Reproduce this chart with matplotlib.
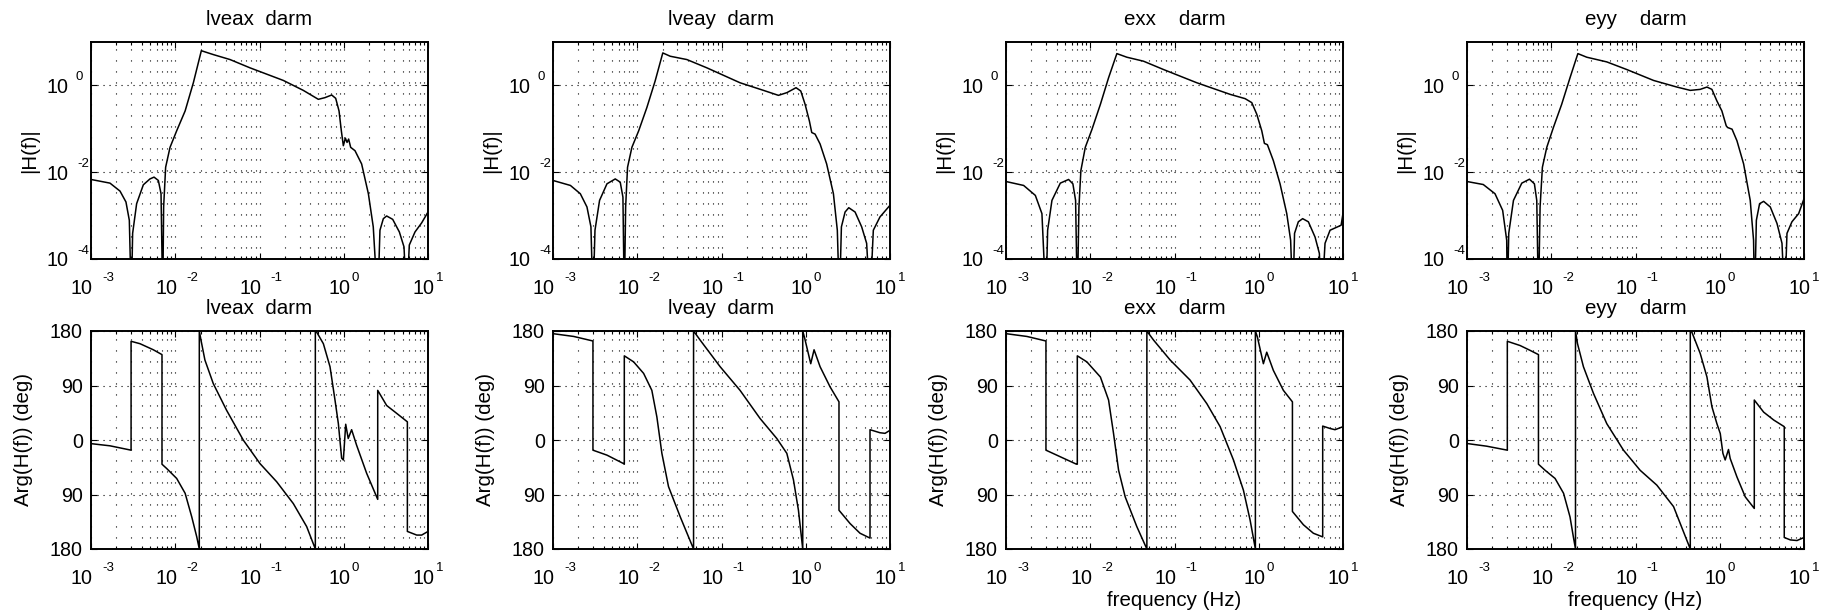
import matplotlib
matplotlib.use("Agg")
import matplotlib.pyplot as plt
from matplotlib.ticker import FixedLocator, FixedFormatter, LogLocator, NullLocator, NullFormatter

plt.rcParams["font.family"] = ["Liberation Sans", "DejaVu Sans"]

# ---- data (frequency in Hz) ----
titles = ["lveax  darm", "lveay  darm", "exx    darm", "eyy    darm"]

# 1e-5 marks the notches that drop below the bottom of the plot
lveax_mag_f = [1.0e-3, 1.68e-3, 2.21e-3, 2.60e-3, 2.85e-3, 3.01e-3, 3.12e-3, 3.48e-3, 4.18e-3, 5.01e-3,
               5.6e-3, 6.3e-3, 6.78e-3, 7.10e-3, 7.28e-3, 7.69e-3, 8.67e-3, 1.04e-2, 1.31e-2, 1.64e-2,
               2.04e-2, 2.83e-2, 4.47e-2, 7.71e-2, 0.192, 0.331, 0.499, 0.598, 0.719, 0.802,
               0.879, 0.936, 0.989, 1.045, 1.094, 1.143, 1.208, 1.36, 1.63, 1.96,
               2.24, 2.53, 2.69, 2.95, 3.23, 3.81, 4.57, 5.19, 5.58, 6.0, 7.01, 8.41, 10.0]
lveax_mag = [6.8e-3, 5.6e-3, 3.67e-3, 2.06e-3, 7.8e-4, 1e-5, 3.9e-4, 1.88e-3, 5.13e-3, 7.0e-3,
             7.7e-3, 6.45e-3, 3.19e-3, 1e-5, 1.58e-3, 1.30e-2, 3.74e-2, 9.0e-2, 0.258, 1.15,
             6.3, 5.13, 3.94, 2.54, 1.30, 0.768, 0.478, 0.522, 0.601, 0.504,
             0.258, 9.0e-2, 4.08e-2, 6.1e-2, 4.86e-2, 5.8e-2, 3.74e-2, 3.13e-2, 1.55e-2, 3.19e-3,
             5.5e-4, 1e-5, 4.6e-4, 8.5e-4, 9.8e-4, 8.2e-4, 4.2e-4, 1.9e-4, 1e-5, 2.1e-4, 4.2e-4, 6.8e-4, 1.21e-3]
lveax_ph_f = [1.0e-3, 1.68e-3, 2.99e-3, 2.99e-3, 3.82e-3, 5.49e-3, 6.96e-3, 6.96e-3, 7.9e-3, 1.04e-2,
              1.31e-2, 1.57e-2, 1.80e-2, 1.93e-2, 1.93e-2, 2.02e-2, 2.25e-2, 2.83e-2, 4.07e-2, 6.43e-2,
              0.1014, 0.16, 0.252, 0.363, 0.460, 0.460, 0.478, 0.573, 0.687, 0.787,
              0.863, 0.944, 0.989, 1.055, 1.13, 1.24, 1.42, 1.87, 2.53, 2.53,
              3.23, 4.25, 5.69, 5.69, 7.35, 8.41, 10.0]
lveax_ph = [-6, -9.6, -16.8, 163, 159, 149, 141, -40, -47, -63.5,
            -88, -127, -160, -180, 180, 165, 132, 93, 49, -0.3,
            -39, -69, -105, -143, -180, 180, 178, 159, 121, 66,
            27, -30, -33, 26, 2.5, 17, -8.5, -55, -98, 82,
            57, 44, 30, -151, -157, -157, -151]

lveay_mag_f = [1.0e-3, 1.61e-3, 2.11e-3, 2.53e-3, 2.82e-3, 2.98e-3, 3.15e-3, 3.57e-3, 4.37e-3, 5.48e-3,
               6.28e-3, 6.76e-3, 7.02e-3, 7.28e-3, 7.67e-3, 8.64e-3, 1.04e-2, 1.30e-2, 1.63e-2, 2.01e-2,
               2.46e-2, 3.88e-2, 6.70e-2, 0.166, 0.315, 0.474, 0.596, 0.767, 0.873, 0.982,
               1.104, 1.178, 1.29, 1.48, 1.77, 2.13, 2.37, 2.51, 2.65, 2.93,
               3.24, 3.85, 4.61, 5.28, 5.79, 6.34, 7.60, 10.0]
lveay_mag = [6.45e-3, 4.95e-3, 3.19e-3, 1.58e-3, 5.5e-4, 1e-5, 4.6e-4, 2.24e-3, 5.4e-3, 7.0e-3,
             5.9e-3, 2.67e-3, 1e-5, 1.58e-3, 1.30e-2, 3.74e-2, 9.0e-2, 0.308, 1.26, 5.6,
             4.7, 3.94, 2.54, 1.15, 0.768, 0.59, 0.68, 0.885, 0.742, 0.367,
             0.152, 8.2e-2, 7.55e-2, 4.46e-2, 1.55e-2, 3.19e-3, 4.6e-4, 1e-5, 5.5e-4, 1.21e-3,
             1.52e-3, 1.21e-3, 5.5e-4, 2.3e-4, 1e-5, 4.6e-4, 9.3e-4, 1.73e-3]
lveay_ph_f = [1.0e-3, 1.76e-3, 2.98e-3, 2.98e-3, 4.37e-3, 6.89e-3, 7.02e-3, 7.02e-3, 9.06e-3, 1.19e-2,
              1.49e-2, 1.71e-2, 1.96e-2, 2.35e-2, 3.24e-2, 4.66e-2, 4.66e-2, 5.58e-2, 9.64e-2, 0.166,
              0.287, 0.453, 0.596, 0.715, 0.819, 0.921, 0.921, 0.964, 1.146, 1.255,
              1.48, 1.94, 2.48, 2.48, 3.36, 4.41, 5.79, 5.79, 7.60, 8.73, 10.0]
lveay_ph = [175.6, 171, 163.5, -16.8, -25, -39, -40, 139, 129, 110,
            82, 38, -22, -77, -127, -180, 180, 165, 121, 82,
            35.5, 2.5, -22, -66, -116, -180, 180, 170, 126, 149,
            121, 88, 63, -116, -138, -154, -162, 17, 12, 11, 16]

exx_mag_f = [1.0e-3, 1.62e-3, 2.23e-3, 2.67e-3, 2.98e-3, 3.12e-3, 3.51e-3, 4.41e-3, 5.53e-3, 6.22e-3,
             6.70e-3, 7.02e-3, 7.34e-3, 7.74e-3, 8.73e-3, 1.05e-2, 1.32e-2, 1.65e-2, 2.07e-2, 2.72e-2,
             4.29e-2, 7.41e-2, 0.184, 0.457, 0.689, 0.826, 0.947, 1.086, 1.167, 1.267,
             1.49, 1.79, 2.15, 2.39, 2.54, 2.66, 2.95, 3.32, 3.88, 4.66,
             5.24, 5.58, 6.12, 7.02, 9.5, 10.0]
exx_mag = [6.1e-3, 4.95e-3, 2.92e-3, 1.11e-3, 1e-5, 4.6e-4, 2.24e-3, 5.6e-3, 6.8e-3, 5.4e-3,
           2.24e-3, 1e-5, 1.58e-3, 1.09e-2, 3.74e-2, 9.8e-2, 0.367, 1.50, 5.4, 4.46,
           3.61, 2.32, 1.15, 0.622, 0.495, 0.401, 0.217, 9.0e-2, 4.61e-2, 4.30e-2,
           1.85e-2, 5.4e-3, 1.11e-3, 2.7e-4, 1e-5, 3.9e-4, 7.2e-4, 8.5e-4, 7.2e-4, 3.2e-4,
           1.35e-4, 1e-5, 2.3e-4, 4.6e-4, 6.0e-4, 1.13e-3]
exx_ph_f = [1.0e-3, 1.77e-3, 2.98e-3, 2.98e-3, 4.41e-3, 6.82e-3, 7.02e-3, 7.02e-3, 9.12e-3, 1.32e-2,
            1.65e-2, 1.89e-2, 2.17e-2, 2.60e-2, 3.57e-2, 4.70e-2, 4.70e-2, 5.64e-2, 8.89e-2, 0.153,
            0.242, 0.348, 0.501, 0.658, 0.789, 0.912, 0.912, 0.964, 1.135, 1.244,
            1.49, 1.96, 2.51, 2.51, 3.39, 4.45, 5.74, 5.74, 7.02, 8.04, 10.0]
exx_ph = [175.6, 171, 163.5, -16.8, -27.7, -39.8, -40, 139, 129, 104,
          66, 10.7, -50, -94, -143, -180, 180, 165, 132, 99,
          60, 22, -33, -83, -132, -180, 180, 170, 126, 145,
          115, 82, 63, -118, -140, -154, -160, 23, 19, 17, 22]

eyy_mag_f = [1.0e-3, 1.56e-3, 2.15e-3, 2.65e-3, 2.96e-3, 3.01e-3, 3.13e-3, 3.56e-3, 4.47e-3, 5.51e-3,
             6.31e-3, 6.73e-3, 7.05e-3, 7.37e-3, 7.85e-3, 8.85e-3, 1.06e-2, 1.33e-2, 1.67e-2, 2.07e-2,
             2.64e-2, 4.56e-2, 7.88e-2, 0.164, 0.310, 0.447, 0.586, 0.705, 0.807, 0.925,
             1.06, 1.194, 1.24, 1.40, 1.60, 1.92, 2.30, 2.52, 2.59, 2.72,
             2.97, 3.32, 3.98, 4.78, 5.48, 5.89, 6.28, 7.19, 8.64, 10.0]
eyy_mag = [6.1e-3, 5.2e-3, 3.19e-3, 1.32e-3, 2.7e-4, 1e-5, 3.9e-4, 2.24e-3, 5.6e-3, 6.9e-3,
           5.4e-3, 2.24e-3, 1e-5, 1.58e-3, 1.30e-2, 3.74e-2, 0.107, 0.367, 1.50, 5.4,
           4.46, 3.48, 2.32, 1.30, 0.916, 0.768, 0.81, 0.916, 0.81, 0.438,
           0.258, 0.117, 0.107, 9.8e-2, 5.3e-2, 1.55e-2, 2.24e-3, 2.7e-4, 1e-5, 7.8e-4,
           1.88e-3, 2.13e-3, 1.58e-3, 6.6e-4, 2.3e-4, 1e-5, 3.9e-4, 7.2e-4, 1.11e-3, 2.45e-3]
eyy_ph_f = [1.0e-3, 1.71e-3, 3.01e-3, 3.01e-3, 4.27e-3, 5.61e-3, 7.05e-3, 7.05e-3, 8.45e-3, 1.11e-2,
            1.40e-2, 1.67e-2, 1.83e-2, 1.94e-2, 1.94e-2, 2.05e-2, 2.41e-2, 3.17e-2, 4.56e-2, 7.20e-2,
            0.1135, 0.179, 0.283, 0.447, 0.447, 0.467, 0.586, 0.705, 0.807, 0.925,
            1.014, 1.09, 1.16, 1.27, 1.33, 1.60, 2.01, 2.57, 2.57, 3.32,
            4.37, 5.83, 5.83, 6.89, 8.26, 10.0]
eyy_ph = [-5.8, -10.2, -16.8, 163, 156, 148, 141, -40, -50, -63.5,
          -88, -127, -160, -180, 180, 159, 121, 77, 27, -16.8,
          -50, -74.5, -110, -180, 180, 178, 143, 104, 55, 27,
          10.7, -22, -33, -15.7, -30.5, -61, -94, -113, 66, 46,
          33, 22, -161, -165, -166, -161]

xticks = [1e-3, 1e-2, 1e-1, 1e0, 1e1]
xtick_exps = ["-3", "-2", "-1", "0", "1"]
mag_ticks = [1e-4, 1e-2, 1e0]
mag_exps = ["-4", "-2", "0"]
ph_ticks = [-180, -90, 0, 90, 180]
ph_ticklabels = ["180", "90", "0", "90", "180"]

panels = [
    (lveax_mag_f, lveax_mag, lveax_ph_f, lveax_ph),
    (lveay_mag_f, lveay_mag, lveay_ph_f, lveay_ph),
    (exx_mag_f, exx_mag, exx_ph_f, exx_ph),
    (eyy_mag_f, eyy_mag, eyy_ph_f, eyy_ph),
]

FS = 14.8       # titles / axis labels
FS_TICK = 14.2  # the "10" and phase numbers
FS_EXP = 9.5    # exponents
W, H = 1829.0, 613.0
col_left = [91, 553, 1006, 1467]


def style_axes(ax):
    ax.set_xscale("log")
    ax.set_xlim(1e-3, 10)
    ax.xaxis.set_major_locator(FixedLocator(xticks))
    ax.xaxis.set_major_formatter(NullFormatter())
    ax.xaxis.set_minor_locator(LogLocator(base=10, subs=range(2, 10), numticks=20))
    ax.xaxis.set_minor_formatter(NullFormatter())
    ax.tick_params(which="both", direction="in", top=True, right=True, width=0.8)
    ax.tick_params(which="major", length=4, labelsize=FS_TICK)
    ax.tick_params(which="minor", length=2)
    ax.grid(True, which="both", axis="x", color="k", lw=0.8, ls=(0, (1, 8.9)))
    ax.grid(True, which="major", axis="y", color="k", lw=0.8, ls=(0, (1, 4.4)))
    for sp in ax.spines.values():
        sp.set_linewidth(1.4)
    # matlab style "10" + raised exponent labels under the x axis
    for t, e in zip(xticks, xtick_exps):
        neg = e.startswith("-")
        ax.annotate("10", xy=(t, 0), xycoords=("data", "axes fraction"),
                    xytext=(-6.5 if neg else -3.0, -14.4), textcoords="offset points",
                    ha="center", va="top", fontsize=FS_TICK, annotation_clip=False)
        ax.annotate(e, xy=(t, 0), xycoords=("data", "axes fraction"),
                    xytext=(7.9 if neg else 5.8, -9.4), textcoords="offset points",
                    ha="left", va="top", fontsize=FS_EXP, annotation_clip=False)


fig = plt.figure(figsize=(W / 100, H / 100), dpi=100)

for i, (mf, m, pf, p) in enumerate(panels):
    # magnitude
    ax = fig.add_axes([col_left[i] / W, 1 - 259 / H, 337 / W, 217 / H])
    ax.plot(mf, m, color="k", lw=1.1)
    style_axes(ax)
    ax.set_yscale("log")
    ax.set_ylim(1e-4, 1e1)
    ax.yaxis.set_major_locator(FixedLocator(mag_ticks))
    ax.yaxis.set_major_formatter(FixedFormatter(["10"] * len(mag_ticks)))
    ax.yaxis.set_minor_locator(NullLocator())
    ax.tick_params(axis="y", pad=31.7)
    plt.setp(ax.get_yticklabels(), ha="left")
    for v, e in zip(mag_ticks, mag_exps):
        neg = e.startswith("-")
        ax.annotate(e, xy=(0, v), xycoords=("axes fraction", "data"),
                    xytext=(-10.1 if neg else -11.5, 6.1), textcoords="offset points",
                    ha="left", va="center", fontsize=FS_EXP, annotation_clip=False)
    ax.set_title(titles[i], fontsize=FS, pad=12)
    ax.set_ylabel("|H(f)|", fontsize=FS)
    ax.yaxis.set_label_coords(-0.155, 0.5)

    # phase
    ax = fig.add_axes([col_left[i] / W, 1 - 549 / H, 337 / W, 218 / H])
    ax.plot(pf, p, color="k", lw=1.1)
    style_axes(ax)
    ax.set_ylim(-180, 180)
    ax.yaxis.set_major_locator(FixedLocator(ph_ticks))
    ax.yaxis.set_major_formatter(FixedFormatter(ph_ticklabels))
    ax.tick_params(axis="y", pad=5.8)
    ax.set_title(titles[i], fontsize=FS, pad=12)
    ax.set_ylabel("Arg(H(f)) (deg)", fontsize=FS)
    ax.yaxis.set_label_coords(-0.172, 0.5)
    if i >= 2:
        ax.set_xlabel("frequency (Hz)", fontsize=FS)
        ax.xaxis.set_label_coords(0.5, -0.193)

fig.savefig("out.png", dpi=100)
